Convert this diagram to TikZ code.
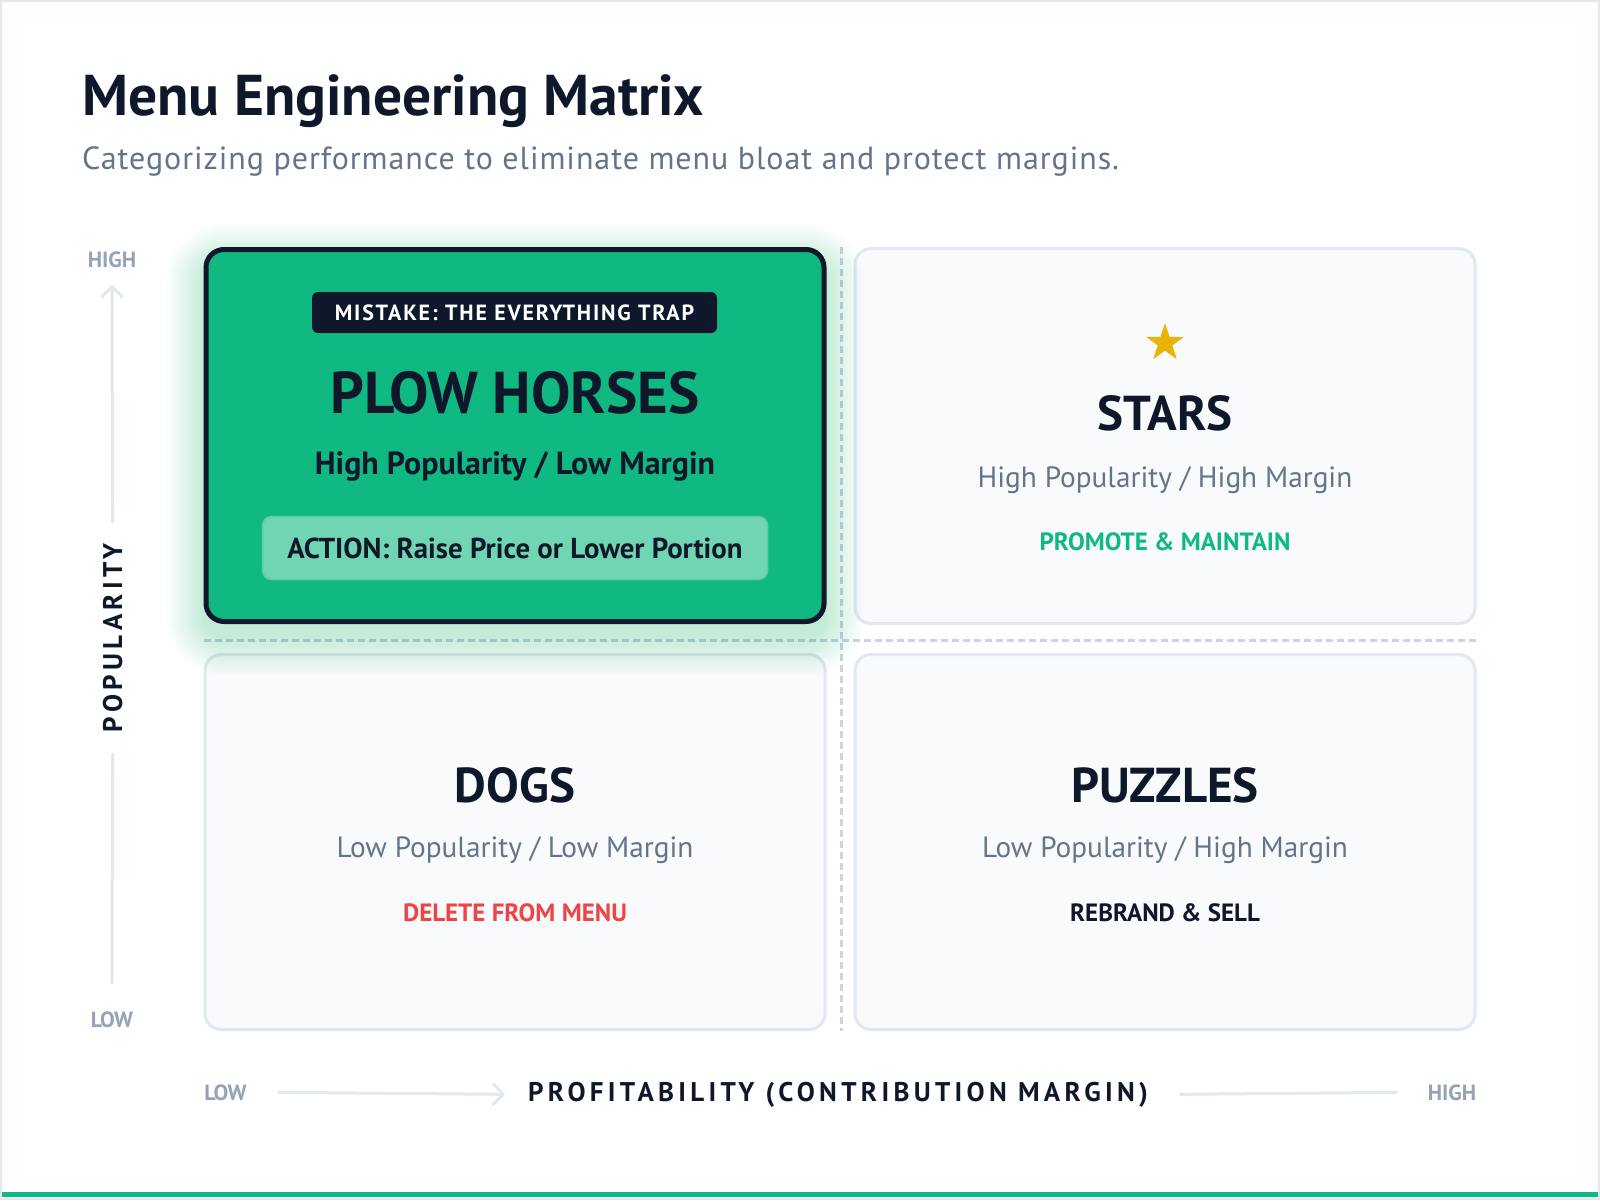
\documentclass[tikz,border=0pt]{standalone}
\usepackage{fontspec}
\setmainfont{PT Sans}
\usetikzlibrary{positioning, arrows.meta, shapes.geometric}

\definecolor{ink}{HTML}{0F172A}
\definecolor{slate}{HTML}{64748B}
\definecolor{muted}{HTML}{94A3B8}
\definecolor{edge}{HTML}{E2E8F0}
\definecolor{dashc}{HTML}{CBD5E1}
\definecolor{mint}{HTML}{10B981}
\definecolor{rose}{HTML}{EF4444}
\definecolor{gold}{HTML}{EAB308}
\definecolor{paper}{HTML}{F8FAFC}
\definecolor{actfill}{HTML}{70D5B3}
\definecolor{actedge}{HTML}{62CBA6}

\tikzset{
	card/.style={draw=edge, line width=3pt, fill=paper, rounded corners=16pt,
		minimum width=620pt, minimum height=375pt, inner sep=0pt},
	hot/.style={draw=ink, line width=5pt, fill=mint, rounded corners=18pt,
		minimum width=618pt, minimum height=372pt, inner sep=0pt},
	badge/.style={fill=ink, rounded corners=6pt, text=white, minimum width=405pt,
		minimum height=41pt, font=\fontsize{22}{26}\selectfont\bfseries\addfontfeatures{LetterSpace=8}},
	actbox/.style={fill=actfill, draw=actedge, line width=1.5pt, rounded corners=9pt,
		minimum width=505pt, minimum height=63pt, text=ink, font=\fontsize{28.8}{32}\selectfont\bfseries},
	qname/.style={anchor=base, inner sep=0pt, text=ink, font=\fontsize{49}{56}\selectfont\bfseries},
	qsub/.style={anchor=base, inner sep=0pt, text=slate, font=\fontsize{29.3}{34}\selectfont},
	qact/.style={anchor=base, inner sep=0pt, font=\fontsize{25}{30}\selectfont\bfseries},
	axlbl/.style={anchor=base, inner sep=0pt, text=muted, font=\fontsize{22}{26}\selectfont\bfseries},
	axname/.style={anchor=base, inner sep=0pt, text=ink,
		font=\fontsize{27}{31}\selectfont\bfseries\addfontfeatures{LetterSpace=16}},
	axline/.style={draw=edge, line width=3pt, line cap=round},
	grid/.style={draw=dashc, line width=3pt, dash pattern=on 7pt off 4pt},
	>={Straight Barb[length=10pt, width=20pt, line width=3pt, line cap=round, line join=round]}
}

\begin{document}
\begin{tikzpicture}[x=1pt, y=-1pt]
	\useasboundingbox (0,0) rectangle (1600,1200);
	\fill[white] (0,0) rectangle (1600,1200);
	\draw[edge, line width=2pt] (1,1) rectangle (1599,1199);
	\fill[mint] (2,1192) rectangle (1598,1197);
	
	% heading
	\node[anchor=base west, inner sep=0pt, text=ink, font=\fontsize{57.5}{64}\selectfont\bfseries] (title) at (82,115) {Menu Engineering Matrix};
	\node[anchor=base west, inner sep=0pt, text=slate, font=\fontsize{32}{38}\selectfont\addfontfeatures{LetterSpace=3}] (subtitle) at (82,169) {Categorizing performance to eliminate menu bloat and protect margins.};
	
	% dividers
	\draw[grid] (841,247) -- (841,1031);
	\draw[grid] (204,640) -- (1477,640);
	
	% quadrants
	\node[card] (stars) at (1165,436) {};
	\node[card] (dogs) at (515,842) {};
	\node[card] (puzzles) at (1165,842) {};
	
	\foreach \g in {2,4,...,40}
		\fill[mint, opacity=0.012, rounded corners={(18+\g)*1pt}] ({206-\g},{264-\g}) rectangle ({824+\g},{635+\g});
	\node[hot] (plow) at (515,435.5) {};
	
	% plow horses
	\node[badge] (trap) at (514.5,312.5) {MISTAKE: THE EVERYTHING TRAP};
	\node[qname, font=\fontsize{59}{66}\selectfont\bfseries] (plowname) at (515,413) {PLOW HORSES};
	\node[qsub, text=ink, font=\fontsize{32}{36}\selectfont\bfseries] (plowsub) at (515,474) {High Popularity / Low Margin};
	\node[actbox] (plowact) at (515,548) {ACTION: Raise Price or Lower Portion};
	
	% stars
	\node[star, star points=5, star point ratio=2.6, fill=gold, inner sep=0pt, minimum size=40pt] (staricon) at (1165,343) {};
	\node[qname] (starsname) at (1165,430) {STARS};
	\node[qsub] (starssub) at (1165,487) {High Popularity / High Margin};
	\node[qact, text=mint] (starsact) at (1165,550) {PROMOTE \& MAINTAIN};
	
	% dogs
	\node[qname] (dogsname) at (515,802) {DOGS};
	\node[qsub] (dogssub) at (515,857) {Low Popularity / Low Margin};
	\node[qact, text=rose] (dogsact) at (515,921) {DELETE FROM MENU};
	
	% puzzles
	\node[qname] (puzzlesname) at (1165,802) {PUZZLES};
	\node[qsub] (puzzlessub) at (1165,857) {Low Popularity / High Margin};
	\node[qact, text=ink] (puzzlesact) at (1165,921) {REBRAND \& SELL};
	
	% popularity axis
	\node[axlbl] (yhigh) at (112,267) {HIGH};
	\node[axname, rotate=90] (pop) at (122,638) {POPULARITY};
	\node[axlbl] (ylow) at (112,1027) {LOW};
	\draw[axline, ->] ([yshift=22pt]pop.east) -- ([yshift=-18pt]yhigh.north |- yhigh.base);
	\draw[axline] ([yshift=-22pt]pop.west) -- ([yshift=28pt]ylow.north);
	
	% profitability axis
	\node[axlbl] (xlow) at (225.5,1100) {LOW};
	\node[axname] (prof) at (838,1101) {PROFITABILITY (CONTRIBUTION MARGIN)};
	\node[axlbl] (xhigh) at (1452,1100) {HIGH};
	\draw[axline, ->] ([xshift=32pt]xlow.east) -- ([xshift=-23pt]prof.west);
	\draw[axline] ([xshift=32pt]prof.east) -- ([xshift=-31pt]xhigh.west);
\end{tikzpicture}
\end{document}
